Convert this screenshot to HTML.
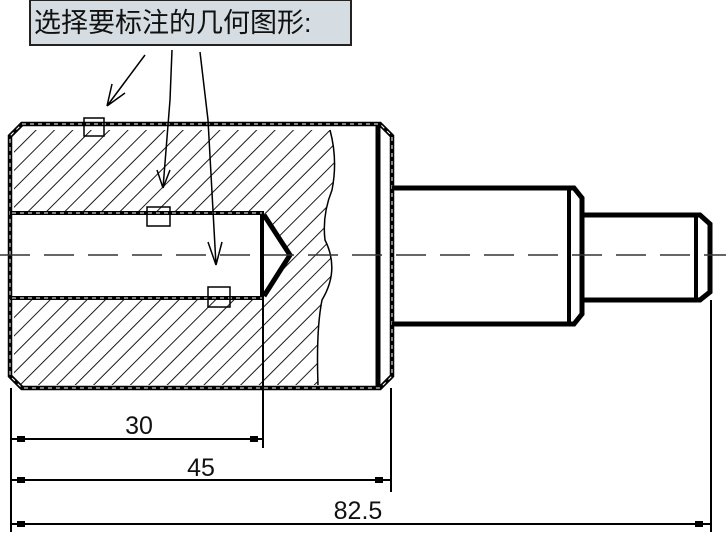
<!DOCTYPE html>
<html><head><meta charset="utf-8"><style>
html,body{margin:0;padding:0;background:#fff;width:726px;height:537px;overflow:hidden}
svg{display:block}
</style></head><body>
<svg width="726" height="537" viewBox="0 0 726 537" xmlns="http://www.w3.org/2000/svg">
<defs>
<pattern id="h" patternUnits="userSpaceOnUse" width="13" height="13" patternTransform="rotate(45)">
<line x1="0" y1="0" x2="0" y2="13" stroke="#000" stroke-width="1.8"/>
</pattern>
<clipPath id="c1"><path d="M14,130 L330,130 Q338,160 332,190 Q322,215 325,240 Q340,270 322,300 Q316,330 318,385 L14,385 Z"/></clipPath>
</defs>
<rect x="30" y="0" width="321" height="45" fill="#d5dde2" stroke="#222" stroke-width="2"/>
<text x="34" y="32" font-family="Liberation Sans,'Noto Sans CJK SC',sans-serif" font-size="27" fill="#111">选择要标注的几何图形:</text>
<g clip-path="url(#c1)">
<rect x="10" y="124" width="330" height="264" fill="url(#h)"/>
<rect x="10" y="213" width="253" height="85" fill="#fff"/>
<polygon points="262,213 290,255 262,298" fill="#fff"/>
</g>
<path d="M330,130 Q338,160 332,190 Q322,215 325,240 Q340,270 322,300 Q316,330 318,385" fill="none" stroke="#000" stroke-width="1.5"/>
<path d="M22,124 L380,124 L392,136 L392,376 L380,388 L22,388 L10,376 L10,136 Z" fill="none" stroke="#000" stroke-width="4.5"/>
<path d="M22,124 L380,124 L392,136 L392,376 L380,388 L22,388 L10,376 L10,136 Z" fill="none" stroke="#fff" stroke-width="1" stroke-dasharray="4,4"/>
<line x1="378" y1="126" x2="378" y2="386" stroke="#000" stroke-width="5"/>
<path d="M10,213 L262,213 L262,298 L10,298" fill="none" stroke="#000" stroke-width="4"/>
<path d="M12,213 L262,213 M12,298 L262,298" fill="none" stroke="#fff" stroke-width="1" stroke-dasharray="4,4"/>
<path d="M264,215 L290,255 L264,296" fill="none" stroke="#000" stroke-width="5"/>
<path d="M392,188 L574,188 L582,198 L582,314 L574,324 L392,324" fill="none" stroke="#000" stroke-width="5"/>
<line x1="569" y1="190" x2="569" y2="322" stroke="#000" stroke-width="4"/>
<path d="M582,215 L700,215 L710,224 L710,292 L700,300 L582,300" fill="none" stroke="#000" stroke-width="5"/>
<line x1="696" y1="217" x2="696" y2="298" stroke="#000" stroke-width="4"/>
<line x1="0" y1="255" x2="726" y2="255" stroke="#333" stroke-width="1.5" stroke-dasharray="30,14"/>
<rect x="84" y="118" width="20" height="18" fill="none" stroke="#000" stroke-width="1.5"/>
<rect x="147" y="207" width="23" height="19" fill="none" stroke="#000" stroke-width="1.5"/>
<rect x="208" y="287" width="22" height="20" fill="none" stroke="#000" stroke-width="1.5"/>
<g stroke="#000" stroke-width="1.5" fill="none">
<path d="M145,55 L107,106 M107,106 L112,84 M107,106 L125,93"/>
<path d="M172,50 L170,100 L163,188 M163,188 L157,170 M163,188 L170,170"/>
<path d="M200,52 L208,120 L216,265 M216,265 L208,242 M216,265 L222,242"/>
</g>
<g stroke="#000" stroke-width="2">
<line x1="11" y1="388" x2="11" y2="532"/>
<line x1="263" y1="298" x2="263" y2="448"/>
<line x1="391" y1="388" x2="391" y2="492"/>
<line x1="711" y1="300" x2="711" y2="532"/>
</g>
<g stroke="#000" stroke-width="2">
<line x1="11" y1="439" x2="263" y2="439"/>
<line x1="11" y1="480" x2="391" y2="480"/>
<line x1="11" y1="524" x2="711" y2="524"/>
</g>
<g fill="#000">
<rect x="17" y="436" width="8" height="6"/><rect x="250" y="436" width="8" height="6"/>
<rect x="17" y="477" width="8" height="6"/><rect x="375" y="477" width="8" height="6"/>
<rect x="17" y="521" width="8" height="6"/><rect x="695" y="521" width="8" height="6"/>
</g>
<g font-family="Liberation Sans,sans-serif" font-size="25" fill="#111" text-anchor="middle">
<text x="139" y="434">30</text>
<text x="201" y="476">45</text>
<text x="358" y="519">82.5</text>
</g>
</svg>
</body></html>
